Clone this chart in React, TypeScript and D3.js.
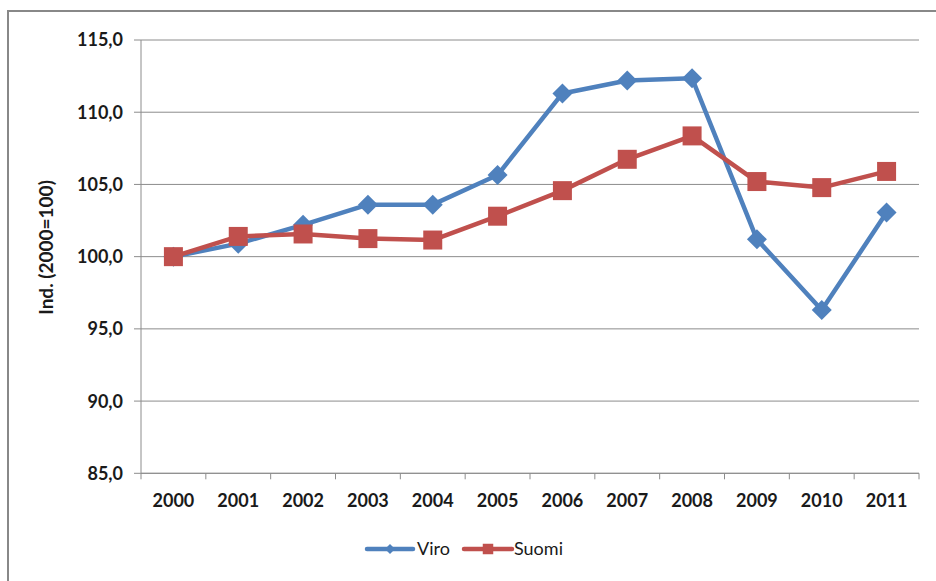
import React from "react";
import * as d3 from "d3";

const years = ["2000","2001","2002","2003","2004","2005","2006","2007","2008","2009","2010","2011"];
const viro = [100.0, 100.9, 102.2, 103.6, 103.6, 105.65, 111.3, 112.2, 112.35, 101.2, 96.3, 103.05];
const suomi = [100.0, 101.4, 101.57, 101.25, 101.15, 102.8, 104.57, 106.74, 108.36, 105.2, 104.78, 105.9];
const yTicks = [85, 90, 95, 100, 105, 110, 115];
const seriesNames = ["Viro", "Suomi"];

const W = 936, H = 581;
const left = 141, right = 919, top = 40, bottom = 473.3;
const BLUE = "#4F81BD", RED = "#C0504D", GRID = "#8c8c8c";
const FONT = "Lato, 'Open Sans', sans-serif";

export default function App() {
  const x = d3.scaleBand<string>().domain(years).range([left, right]).padding(0);
  const y = d3.scaleLinear().domain([85, 115]).range([bottom, top]);
  const cx = (yr: string) => (x(yr) as number) + x.bandwidth() / 2;
  const line = d3.line<number>().x((_, i) => cx(years[i])).y((v) => y(v));
  const sq = d3.symbol().type(d3.symbolSquare);
  const fmt = (v: number) => v.toFixed(1).replace(".", ",");
  const boundaries = d3.range(years.length + 1).map((i) => left + i * x.bandwidth());

  return (
    <div style={{ position: "absolute", left: 0, top: 0 }}>
      <svg width={W} height={H} style={{ display: "block", background: "#fff" }}>
        <rect x={0} y={0} width={W} height={H} fill="#fff" />
        {/* outer frame */}
        <path d={`M8,${H + 5} L8,11 L${W + 5},11`} fill="none" stroke="#888" strokeWidth={2} />
        {/* gridlines */}
        {yTicks.map((t) => (
          <g key={t}>
            <line x1={left} x2={right} y1={y(t)} y2={y(t)} stroke={GRID} strokeWidth={1} />
            <line x1={left - 7} x2={left} y1={y(t)} y2={y(t)} stroke={GRID} strokeWidth={1} />
            <text x={123} y={y(t)} dy="0.36em" textAnchor="end" fontFamily={FONT} fontWeight={700}
              fontSize={18} fill="#1a1a1a">{fmt(t)}</text>
          </g>
        ))}
        {/* axes */}
        <line x1={left} x2={left} y1={top} y2={bottom} stroke={GRID} strokeWidth={1} />
        <line x1={left} x2={right} y1={bottom} y2={bottom} stroke={GRID} strokeWidth={1} />
        {boundaries.map((b, i) => (
          <line key={i} x1={b} x2={b} y1={bottom} y2={bottom + 6} stroke={GRID} strokeWidth={1} />
        ))}
        {years.map((yr) => (
          <text key={yr} x={cx(yr)} y={507} textAnchor="middle" fontFamily={FONT} fontWeight={700}
            fontSize={18} fill="#1a1a1a">{yr}</text>
        ))}
        {/* y title */}
        <text transform={`translate(53,247.5) rotate(-90)`} textAnchor="middle" fontFamily={FONT}
          fontWeight={700} fontSize={19} fill="#1a1a1a">Ind. (2000=100)</text>
        {/* series */}
        <path d={line(viro) || ""} fill="none" stroke={BLUE} strokeWidth={4.5} strokeLinejoin="round" />
        {viro.map((v, i) => (
          <path key={i} d={sq.size(200)() || ""} transform={`translate(${cx(years[i])},${y(v)}) rotate(45)`} fill={BLUE} />
        ))}
        <path d={line(suomi) || ""} fill="none" stroke={RED} strokeWidth={4.5} strokeLinejoin="round" />
        {suomi.map((v, i) => (
          <path key={i} d={sq.size(361)() || ""} transform={`translate(${cx(years[i])},${y(v)})`} fill={RED} />
        ))}
        {/* legend */}
        <g>
          <line x1={367} x2={413} y1={549} y2={549} stroke={BLUE} strokeWidth={4.5} strokeLinecap="round" />
          <path d={sq.size(50)() || ""} transform={`translate(390,549) rotate(45)`} fill={BLUE} />
          <text x={417} y={549} dy="0.36em" fontFamily={FONT} fontSize={18} fill="#1a1a1a">{seriesNames[0]}</text>
          <line x1={464} x2={512} y1={549} y2={549} stroke={RED} strokeWidth={4.5} strokeLinecap="round" />
          <path d={sq.size(110)() || ""} transform={`translate(488,549)`} fill={RED} />
          <text x={514} y={549} dy="0.36em" fontFamily={FONT} fontSize={18} fill="#1a1a1a">{seriesNames[1]}</text>
        </g>
      </svg>
    </div>
  );
}
